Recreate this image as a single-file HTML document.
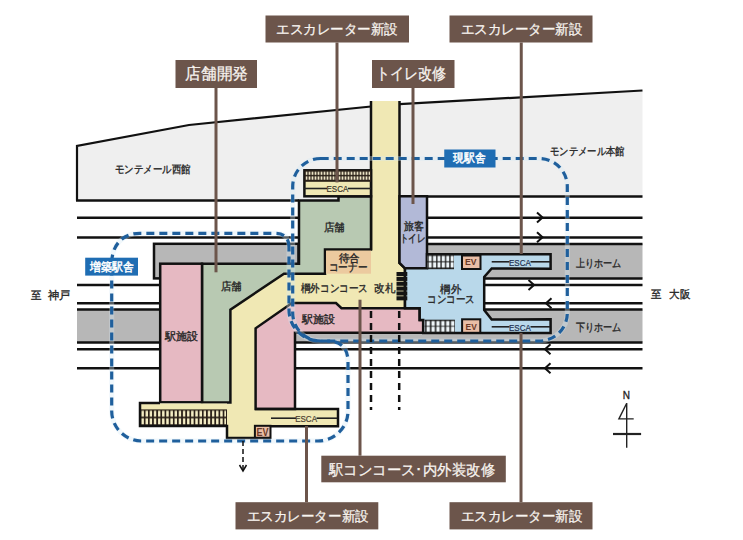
<!DOCTYPE html>
<html><head><meta charset="utf-8">
<style>
html,body{margin:0;padding:0;background:#fff;}
body{width:743px;height:540px;overflow:hidden;position:relative;font-family:"Liberation Sans",sans-serif;}
svg{position:absolute;left:0;top:0;}
svg text{font-family:"Liberation Sans",sans-serif;}
.lb{fill:#fff;font-size:16px;}
.sm{fill:#333;font-size:11px;}
.es{fill:#333;font-size:8.5px;}
</style></head><body>
<svg width="743" height="540" viewBox="0 0 743 540">
<defs>
<pattern id="hUL" patternUnits="userSpaceOnUse" x="305" y="170.3" width="3" height="11.5"><rect x="0.6" y="1.3" width="1.8" height="3.3" fill="#efe6c8"/><rect x="0.6" y="6.1" width="1.8" height="3.3" fill="#efe6c8"/></pattern>
<pattern id="hBL" patternUnits="userSpaceOnUse" x="140.5" y="409.4" width="4.15" height="16"><rect x="0.9" y="1.3" width="2.4" height="6" fill="#f6efc6"/><rect x="0.9" y="9" width="2.4" height="6" fill="#f6efc6"/></pattern>
<pattern id="hSU" patternUnits="userSpaceOnUse" x="428" y="254.6" width="4.4" height="14.6"><rect x="0.6" y="1.3" width="3.1" height="5.4" fill="#eef5f8"/><rect x="0.6" y="7.7" width="3.1" height="5.3" fill="#eef5f8"/></pattern>
<pattern id="hSD" patternUnits="userSpaceOnUse" x="425.8" y="319.7" width="4.9" height="13.1"><rect x="0.7" y="1.3" width="3.4" height="4.9" fill="#eef5f8"/><rect x="0.7" y="7" width="3.4" height="4.9" fill="#eef5f8"/></pattern>
</defs>
<!-- buildings -->
<polygon points="77,146 189,125 371,106.5 371,200.5 77,200.5" fill="#efefef"/>
<polygon points="399.5,104.2 642.5,90.5 642.5,196.5 399.5,196.5" fill="#efefef"/>
<g fill="none" stroke="#111" stroke-width="2.5">
<polyline points="77,200.5 77,146 189,125 371,106.5" stroke-width="2.2"/>
<polyline points="399.5,104.2 642.5,90.5" stroke-width="2.2"/>
<line x1="76" y1="200.5" x2="299" y2="200.5"/>
<line x1="427" y1="196.5" x2="642.5" y2="196.5"/>
<!-- rails -->
<line x1="77" y1="217.7" x2="642.5" y2="217.7"/>
<line x1="77" y1="237.5" x2="642.5" y2="237.5"/>
<line x1="77" y1="285" x2="642.5" y2="285"/>
<line x1="77" y1="303.2" x2="642.5" y2="303.2"/>
<line x1="77" y1="349.3" x2="642.5" y2="349.3"/>
<line x1="77" y1="368.2" x2="642.5" y2="368.2"/>
</g>
<!-- platforms -->
<rect x="154" y="243.8" width="144.5" height="34.6" fill="#b7b7b7" stroke="#111" stroke-width="2.5"/>
<rect x="427" y="244.1" width="215.5" height="34.4" fill="#b7b7b7"/>
<rect x="77" y="309.5" width="565.5" height="33" fill="#b7b7b7"/>
<g stroke="#111" stroke-width="2.5">
<line x1="427" y1="244.1" x2="642.5" y2="244.1"/>
<line x1="427" y1="278.5" x2="642.5" y2="278.5"/>
<line x1="77" y1="309.5" x2="642.5" y2="309.5"/>
<line x1="77" y1="342.5" x2="642.5" y2="342.5"/>
</g>
<!-- yellow corridor -->
<polygon points="371,101 399.5,101 399.5,263 405,268.3 405,308.2 300,308.2 255.6,338 255.6,409 338,409 338,426.2 270.5,426.2 270.5,438 227,438 227,403.5 230.4,403.5 230.4,309.7 284,274 299,274 299,200 371,200" fill="#f0e8b4"/>
<g fill="none" stroke="#111" stroke-width="2.5">
<line x1="371" y1="101" x2="371" y2="250"/>
<polyline points="399.5,101 399.5,263 405,268.3 405,308.2"/>

</g>
<!-- green -->
<polygon points="299,200.5 338.5,200.5 338.5,196.3 371,196.3 371,249.5 325,249.5 325,273.7 284,273.7 230.4,309.7 230.4,402.5 202,402.5 202,263.7 299,263.7" fill="#b8c9b2" stroke="#111" stroke-width="2.5"/>
<rect x="326" y="250.7" width="45" height="23" fill="#ecca9f"/>
<!-- toilet -->
<polygon points="399.5,196.3 427,196.3 427,268.3 405,268.3 399.5,263" fill="#b2b9d7" stroke="#111" stroke-width="2.5"/>
<!-- pink -->
<polygon points="292,303 336,303 341.5,308.2 419.7,308.2 419.7,319.9 423.2,319.9 423.2,332.8 295,332.8 295,409 255.6,409 255.6,328.3 287.3,306.2" fill="#e6b9c2" stroke="#111" stroke-width="2.5"/>
<rect x="160.2" y="263.7" width="41.8" height="138.6" fill="#e6b9c2" stroke="#111" stroke-width="2.5"/>
<!-- light blue concourse -->
<polygon points="405,268.3 427,268.3 427,254.3 550.6,254.3 550.6,268.7 491.7,268.5 484.2,277 484.2,310 491.7,319.5 550.6,319.3 550.6,332.9 423.2,332.9 423.2,319.9 419.7,319.9 419.7,308.2 405,308.2" fill="#b9d8ea" stroke="#111" stroke-width="2.5"/>
<!-- upper ESCA -->
<!-- stairs right -->
<rect x="427" y="254.6" width="27" height="14.6" fill="#1a1a1a"/>
<rect x="427" y="254.6" width="27" height="14.6" fill="url(#hSU)"/>
<rect x="424.6" y="319.7" width="30.3" height="13.1" fill="#1a1a1a"/>
<rect x="424.6" y="319.7" width="30.3" height="13.1" fill="url(#hSD)"/>
<!-- EV -->
<rect x="462" y="255.5" width="18.5" height="13.5" fill="#eabea6" stroke="#111" stroke-width="2"/>
<rect x="462.1" y="319.3" width="18.2" height="13.5" fill="#eabea6" stroke="#111" stroke-width="2"/>
<rect x="254.9" y="425.8" width="15.6" height="12.2" fill="#eabea6" stroke="#111" stroke-width="2"/>
<!-- gate -->
<g fill="#141414">
<rect x="396.5" y="272.00" width="10.8" height="4.1"/>
<rect x="396.5" y="276.85" width="10.8" height="4.1"/>
<rect x="396.5" y="281.70" width="10.8" height="4.1"/>
<rect x="396.5" y="286.55" width="10.8" height="4.1"/>
<rect x="396.5" y="291.40" width="10.8" height="4.1"/>
<rect x="396.5" y="296.25" width="10.8" height="4.1"/>
</g>
<!-- upper-left escalator -->
<rect x="304.4" y="170.3" width="66.6" height="26" fill="#f0e8b4" stroke="#111" stroke-width="2.5"/>
<rect x="304.4" y="170.3" width="66.6" height="11.5" fill="#2a2018"/>
<rect x="305.5" y="171.3" width="64.5" height="9.5" fill="url(#hUL)"/>
<!-- bottom-left escalator -->
<rect x="140" y="403.5" width="87" height="22.5" fill="#f0e8b4"/>
<rect x="140" y="409.4" width="87" height="16.5" fill="#2a2018"/>
<rect x="141" y="410" width="85" height="15" fill="url(#hBL)"/>
<polyline points="255,409 338,409 338,426.2 270.5,426.2" fill="none" stroke="#111" stroke-width="2.5"/>
<polyline points="160,403 140,403 140,426 227,426 227,438 270.5,438" fill="none" stroke="#111" stroke-width="2.5"/>
<!-- ESCA lines -->
<g stroke="#222" stroke-width="1.6">
<line x1="304" y1="188.5" x2="327" y2="188.5"/><line x1="348" y1="188.5" x2="371" y2="188.5"/>
<line x1="491.7" y1="261.8" x2="509.5" y2="261.8"/><line x1="530.5" y1="261.8" x2="550" y2="261.8"/>
<line x1="491.7" y1="326.8" x2="509.5" y2="326.8"/><line x1="530.5" y1="326.8" x2="550" y2="326.8"/>
<line x1="271" y1="418.2" x2="296" y2="418.2"/><line x1="316.5" y1="418.2" x2="337" y2="418.2"/>
</g>
<g font-size="9" stroke-width="0.2">
<text x="326.5" y="192" textLength="21.8" lengthAdjust="spacingAndGlyphs" fill="#3a3328" stroke="#3a3328">ESCA</text>
<text x="509" y="265.5" textLength="21.8" lengthAdjust="spacingAndGlyphs" fill="#1e3050" stroke="#1e3050">ESCA</text>
<text x="509" y="330.5" textLength="21.8" lengthAdjust="spacingAndGlyphs" fill="#1e3050" stroke="#1e3050">ESCA</text>
<text x="295.2" y="421.5" textLength="21.8" lengthAdjust="spacingAndGlyphs" fill="#4a4030" stroke="#4a4030">ESCA</text>
</g>
<g fill="#6a3a28" font-size="9" font-weight="bold">
<text x="465" y="265.3" textLength="11.5" lengthAdjust="spacingAndGlyphs">EV</text>
<text x="465.6" y="329.6" textLength="11.2" lengthAdjust="spacingAndGlyphs">EV</text>
<text x="256.4" y="436" font-size="10" textLength="12" lengthAdjust="spacingAndGlyphs">EV</text>
</g>
<!-- arrows -->
<g fill="none" stroke="#111" stroke-width="2">
<polyline points="537,212.5 542.5,217.5 537,222.5"/>
<polyline points="537,232.3 542.5,237.3 537,242.3"/>
<polyline points="528.5,280 534,285 528.5,290"/>
<polyline points="551.5,298.2 546,303.2 551.5,308.2"/>
<polyline points="550.5,344.3 545,349.3 550.5,354.3"/>
<polyline points="550.5,363.2 545,368.2 550.5,373.2"/>
</g>
<!-- dashed outlines -->
<defs>
<rect id="dR" x="292.7" y="158.5" width="274.6" height="182.5" rx="28" ry="28"/>
<path id="dP" d="M289,247 Q289,233.3 275,233.3 L140,233.3 C122,233.3 111.7,246 111.7,263 L111.7,411 A30,30 0 0 0 141.7,441 L318,441 A30,30 0 0 0 348,411 L348,362 Q348,341 327,341 L320,341 A31,31 0 0 1 289,310 Z"/>
</defs>
<g fill="none" stroke="#d6eaf7" stroke-width="5" opacity="0.35">
<use href="#dR"/><use href="#dP"/>
</g>
<g fill="none" stroke="#1f5f9c" stroke-width="3.2" stroke-dasharray="8 5">
<use href="#dR"/><use href="#dP"/>
</g>
<!-- dashed black -->
<g stroke="#111" stroke-width="2.5" stroke-dasharray="7 5">
<line x1="371" y1="311" x2="371" y2="410"/>
<line x1="399.2" y1="311" x2="399.2" y2="410"/>
</g>
<g stroke="#111" stroke-width="1.5" stroke-dasharray="5 3">
<line x1="243" y1="441" x2="243" y2="470"/>
</g>
<polyline points="239.5,465 243,471 246.5,465" fill="none" stroke="#111" stroke-width="1.5"/>
<!-- leader lines -->
<g stroke="#6c554b" stroke-width="3">
<line x1="216" y1="88" x2="216" y2="272.3"/>
<line x1="337" y1="42.5" x2="337" y2="182.4"/>
<line x1="413" y1="88" x2="413" y2="204"/>
<line x1="521.25" y1="42.5" x2="521.25" y2="254"/>
<line x1="360" y1="299.7" x2="360" y2="455.7"/>
<line x1="306.5" y1="426" x2="306.5" y2="502.2"/>
<line x1="521" y1="332.9" x2="521" y2="502.2"/>
</g>
<!-- brown labels -->
<g fill="#6c554b">
<rect x="175.5" y="60" width="81.5" height="28"/>
<rect x="265.5" y="15.5" width="143.5" height="27"/>
<rect x="372" y="60" width="82.5" height="28"/>
<rect x="449.5" y="15.5" width="143" height="27"/>
<rect x="321.3" y="455.7" width="184.5" height="26.6"/>
<rect x="235.5" y="502.2" width="142.8" height="27.2"/>
<rect x="449.5" y="502.2" width="143" height="27.2"/>
</g>
<g fill="#f8f4f0" stroke="#f8f4f0" stroke-width="0.25">
<text x="185" y="79" font-size="15.5" textLength="63" lengthAdjust="spacingAndGlyphs">店舗開発</text>
<text x="276" y="34" font-size="14" textLength="122" lengthAdjust="spacingAndGlyphs">エスカレーター新設</text>
<text x="375.5" y="79" font-size="15.5" textLength="70.5" lengthAdjust="spacingAndGlyphs">トイレ改修</text>
<text x="460.5" y="34" font-size="14" textLength="122" lengthAdjust="spacingAndGlyphs">エスカレーター新設</text>
<text x="329" y="474.5" font-size="15" textLength="166" lengthAdjust="spacingAndGlyphs">駅コンコース･内外装改修</text>
<text x="246.7" y="521" font-size="14" textLength="122" lengthAdjust="spacingAndGlyphs">エスカレーター新設</text>
<text x="460.5" y="521" font-size="14" textLength="122" lengthAdjust="spacingAndGlyphs">エスカレーター新設</text>
</g>
<!-- blue labels -->
<g fill="#1f6db3">
<rect x="444.25" y="149.5" width="51.25" height="18"/>
<rect x="85.2" y="257.7" width="52.8" height="17.9"/>
</g>
<g fill="#fff" stroke="#fff" stroke-width="0.5" font-size="12">
<text x="453.3" y="162.2" font-size="11.5" textLength="32.5" lengthAdjust="spacingAndGlyphs">現駅舎</text>
<text x="89.7" y="270.6" font-size="11.5" textLength="43.8" lengthAdjust="spacingAndGlyphs">増築駅舎</text>
</g>
<!-- small labels -->
<g fill="#262626" stroke="#262626" stroke-width="0.35" font-size="11">
<text x="115" y="173" textLength="75.5" lengthAdjust="spacingAndGlyphs">モンテメール西館</text>
<text x="550" y="155" textLength="74.5" lengthAdjust="spacingAndGlyphs">モンテメール本館</text>
<text x="323.8" y="231" textLength="21" lengthAdjust="spacingAndGlyphs">店舗</text>
<text x="220.7" y="290" textLength="21" lengthAdjust="spacingAndGlyphs">店舗</text>
<text x="164.5" y="339.5" textLength="33" lengthAdjust="spacingAndGlyphs">駅施設</text>
<text x="338.5" y="262.3" textLength="21" lengthAdjust="spacingAndGlyphs">待合</text>
<text x="328.8" y="271" textLength="38.5" lengthAdjust="spacingAndGlyphs">コーナー</text>
<text x="403.5" y="230" textLength="20" lengthAdjust="spacingAndGlyphs">旅客</text>
<text x="399.5" y="241.5" textLength="26" lengthAdjust="spacingAndGlyphs">トイレ</text>
<text x="300.8" y="292.2" textLength="67" lengthAdjust="spacingAndGlyphs">棡外コンコース</text>
<text x="374.3" y="292.2" textLength="21" lengthAdjust="spacingAndGlyphs">改札</text>
<text x="301.5" y="323" textLength="33" lengthAdjust="spacingAndGlyphs">駅施設</text>
<text x="440.2" y="293.4" textLength="21" lengthAdjust="spacingAndGlyphs">棡外</text>
<text x="427" y="303.2" textLength="47.5" lengthAdjust="spacingAndGlyphs">コンコース</text>
<text x="576" y="266.8" textLength="45.5" lengthAdjust="spacingAndGlyphs">上りホーム</text>
<text x="576" y="330.9" textLength="45.5" lengthAdjust="spacingAndGlyphs">下りホーム</text>
<text x="31" y="298.6" textLength="10.5" lengthAdjust="spacingAndGlyphs">至</text>
<text x="48" y="298.6" textLength="22.5" lengthAdjust="spacingAndGlyphs">神戸</text>
<text x="650.5" y="298.3" textLength="10.5" lengthAdjust="spacingAndGlyphs">至</text>
<text x="669.2" y="298.3" textLength="21" lengthAdjust="spacingAndGlyphs">大阪</text>
</g>
<!-- compass -->
<text x="626.3" y="399" font-size="10" fill="#222" stroke="#222" stroke-width="0.3" text-anchor="middle">N</text>
<g fill="none" stroke="#222" stroke-width="1.4">
<line x1="626.7" y1="403.3" x2="626.7" y2="447.8"/>
<polyline points="626.7,403.3 618.9,418.9 633.7,418.9"/>
</g>
<line x1="613" y1="434" x2="641.1" y2="434" stroke="#222" stroke-width="2.2"/>
</svg>
</body></html>
